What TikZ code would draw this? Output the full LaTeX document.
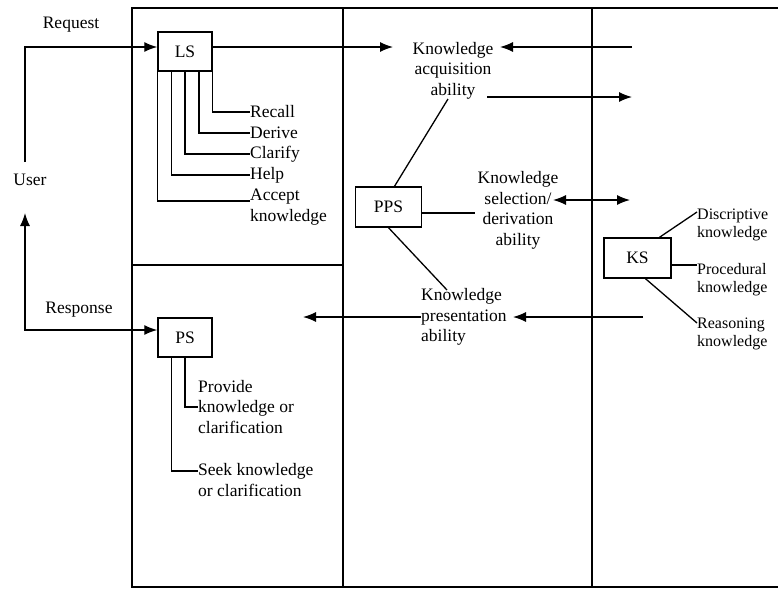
\documentclass[tikz,border=0pt]{standalone}
\usepackage{fontspec}
\setmainfont{Liberation Serif}
\usetikzlibrary{arrows.meta,calc}
\begin{document}
\begin{tikzpicture}[x=1pt,y=-1pt,
  lbl/.style={inner sep=0pt, font=\fontsize{17.5}{20.5}\selectfont},
  slbl/.style={inner sep=0pt, font=\fontsize{16}{18}\selectfont, align=left, anchor=west},
  box/.style={draw, line width=1.4pt, minimum width=54pt, minimum height=39pt, inner sep=0pt, font=\fontsize{17.5}{20.5}\selectfont},
  ln/.style={line width=1.3pt},
  frame/.style={line width=1.8pt},
  arr/.style={ln, -{Latex[length=13pt,width=10pt]}},
  darr/.style={ln, {Latex[length=13pt,width=10pt]}-{Latex[length=13pt,width=10pt]}},
]
\useasboundingbox (0,0) rectangle (778,590);
% frame
\draw[frame] (778,8) -- (132,8) -- (132,587) -- (778,587);
\draw[frame] (343,8) -- (343,587);
\draw[frame] (592,8) -- (592,587);
\draw[frame] (132,265) -- (343,265);

% boxes
\node[box] (LS) at (185,51.5) {LS};
\node[box] (PS) at (185,337.5) {PS};
\node[box, minimum width=66pt, minimum height=40pt] (PPS) at (388.5,207) {PPS};
\node[box, minimum width=67pt, minimum height=40pt] (KS) at (637.5,258) {KS};

% left labels
\node[lbl] (user) at (30,180) {User};
\node[lbl] (req) at (71,25) {Request};
\node[lbl] (resp) at (79,310) {Response};

\coordinate (u1) at (25,162);
\coordinate (u2) at (25,47);
\draw[arr] (u1) -- (u2) -- (LS.west |- u2);
\coordinate (r1) at (25,213);
\coordinate (r2) at (25,330);
\draw[darr] (r1) -- (r2) -- (PS.west |- r2);

% LS branches
\node[lbl, anchor=west] (recall) at (250,112) {Recall};
\node[lbl, anchor=west] (derive) at (250,133) {Derive};
\node[lbl, anchor=west] (clarify) at (250,154) {Clarify};
\node[lbl, anchor=west] (help) at (250,175) {Help};
\node[lbl, anchor=west, align=left] (accept) at (250,207) {Accept\\knowledge};
\coordinate (accL) at (250,201);
\draw[ln] (LS.south east) |- (recall.west);
\draw[ln] ($(LS.south west)!0.75!(LS.south east)$) |- (derive.west);
\draw[ln] (LS.south) |- (clarify.west);
\draw[ln] ($(LS.south west)!0.25!(LS.south east)$) |- (help.west);
\draw[ln] (LS.south west) |- (accL);

% PS branches
\node[lbl, anchor=west, align=left] (provide) at (198,407) {Provide\\knowledge or\\clarification};
\node[lbl, anchor=west, align=left] (seek) at (198,480) {Seek knowledge\\or clarification};
\coordinate (seekL) at (198,471);
\draw[ln] (PS.south) |- (provide.west);
\draw[ln] ($(PS.south west)!0.25!(PS.south east)$) |- (seekL);

% middle column
\node[lbl, align=center] (kaq) at (453,70.5) {Knowledge\\acquisition\\ability};
\node[lbl, align=center] (ksd) at (518,210.5) {Knowledge\\selection/\\derivation\\ability};
\node[lbl, anchor=west, align=left] (kp) at (421,317) {Knowledge\\presentation\\ability};

\coordinate (kaIn) at (393,47);
\draw[arr] (LS.east |- u2) -- (kaIn);
\coordinate (ksR1) at (632,47);
\coordinate (kaR) at (500,47);
\draw[arr] (ksR1) -- (kaR);
\coordinate (kaOut) at (487,97);
\coordinate (ksR2) at (632,97);
\draw[arr] (kaOut) -- (ksR2);
\coordinate (kaLow) at (448,99);
\draw[ln] (kaLow) -- ([xshift=6pt]PPS.north);
\coordinate (ksdL) at (475,213);
\draw[ln] (PPS.east |- ksdL) -- (ksdL);
\coordinate (ksdA) at (553,200);
\coordinate (ksdB) at (630,200);
\draw[darr] (ksdA) -- (ksdB);
\coordinate (kpTop) at (447,290);
\draw[ln] ([xshift=0pt]PPS.south) -- (kpTop);
\coordinate (kpR) at (643,317);
\coordinate (kpIn) at (513,317);
\draw[arr] (kpR) -- (kpIn);
\coordinate (kpOut) at (303,317);
\draw[arr] (kp.west) -- (kpOut);

% KS branches
\node[slbl] (disc) at (697,225) {Discriptive\\knowledge};
\node[slbl] (proc) at (697,280) {Procedural\\knowledge};
\node[slbl] (reas) at (697,334) {Reasoning\\knowledge};
\coordinate (discL) at (697,212);
\coordinate (procL) at (697,265);
\coordinate (reasL) at (697,323);
\draw[ln] ([xshift=22pt]KS.north) -- (discL);
\draw[ln] (KS.east |- procL) -- (procL);
\draw[ln] ([xshift=8pt]KS.south) -- (reasL);
\end{tikzpicture}
\end{document}
